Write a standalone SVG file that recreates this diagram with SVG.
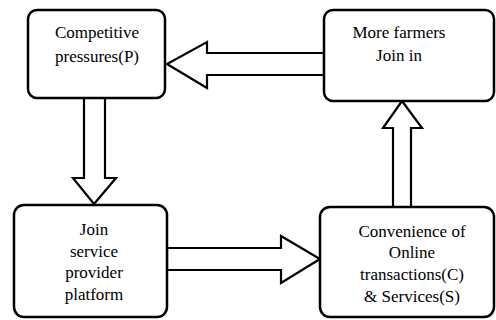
<svg xmlns="http://www.w3.org/2000/svg" width="496" height="320" viewBox="0 0 496 320">
<rect width="496" height="320" fill="#fff"/>
<g id="connectors" fill="#fff" stroke="#000" stroke-width="2.2">
<polygon points="324,53 207,53 207,42 167,64 207,88 207,75 324,75"/>
<polygon points="84,98 105,98 105,178 116,178 94,204 73,178 84,178"/>
<polygon points="167,248 281,248 281,236 320,259 281,283 281,270 167,270"/>
<polygon points="393,207 393,128 383,128 402,101 422,128 411,128 411,207"/>
</g>
<g id="n1">
<rect x="28" y="10" width="137" height="88" rx="9" fill="#fff" stroke="#000" stroke-width="2.5"/>
<text x="97" y="38" style="font-family:'Times New Roman','Liberation Serif',serif;font-size:17px;text-anchor:middle">Competitive</text>
<text x="97" y="62" style="font-family:'Times New Roman','Liberation Serif',serif;font-size:17px;text-anchor:middle">pressures(P)</text>
</g>
<g id="n2">
<rect x="324" y="10" width="170" height="91" rx="9" fill="#fff" stroke="#000" stroke-width="2.5"/>
<text x="399" y="38" style="font-family:'Times New Roman','Liberation Serif',serif;font-size:17px;text-anchor:middle">More farmers</text>
<text x="399" y="61" style="font-family:'Times New Roman','Liberation Serif',serif;font-size:17px;text-anchor:middle">Join in</text>
</g>
<g id="n3">
<rect x="14" y="205" width="153" height="112" rx="10" fill="#fff" stroke="#000" stroke-width="2.5"/>
<text x="94" y="235" style="font-family:'Times New Roman','Liberation Serif',serif;font-size:17px;text-anchor:middle">Join</text>
<text x="94" y="257" style="font-family:'Times New Roman','Liberation Serif',serif;font-size:17px;text-anchor:middle">service</text>
<text x="94" y="278" style="font-family:'Times New Roman','Liberation Serif',serif;font-size:17px;text-anchor:middle">provider</text>
<text x="94" y="300" style="font-family:'Times New Roman','Liberation Serif',serif;font-size:17px;text-anchor:middle">platform</text>
</g>
<g id="n4">
<rect x="320" y="207" width="174" height="110" rx="10" fill="#fff" stroke="#000" stroke-width="2.5"/>
<text x="412" y="237" style="font-family:'Times New Roman','Liberation Serif',serif;font-size:17px;text-anchor:middle">Convenience of</text>
<text x="412" y="258" style="font-family:'Times New Roman','Liberation Serif',serif;font-size:17px;text-anchor:middle">Online</text>
<text x="412" y="280" style="font-family:'Times New Roman','Liberation Serif',serif;font-size:17px;text-anchor:middle">transactions(C)</text>
<text x="412" y="302" style="font-family:'Times New Roman','Liberation Serif',serif;font-size:17px;text-anchor:middle">&amp; Services(S)</text>
</g>
</svg>
